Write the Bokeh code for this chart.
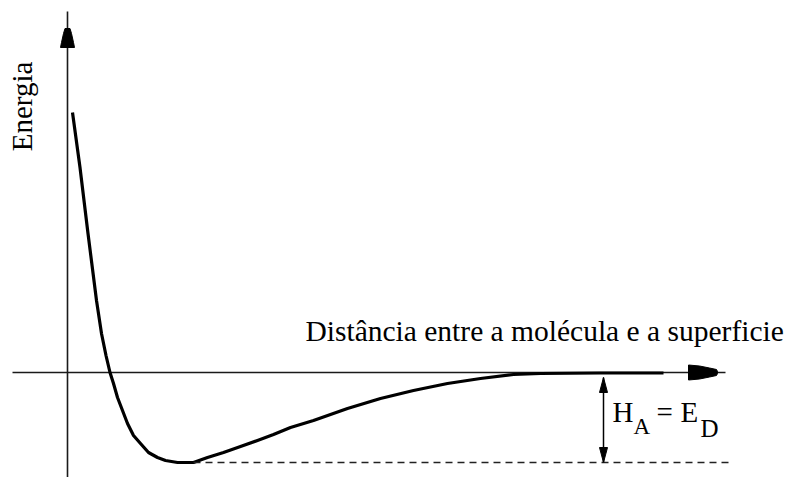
import numpy as np
from bokeh.plotting import figure
from bokeh.models import Range1d
from bokeh.core.properties import value
from bokeh.embed import file_html
from bokeh.resources import INLINE

# Potential-energy curve for adsorption (arbitrary units; x = distance, y = energy)
distance = [5, 12.5, 20.5, 29, 34, 38.5, 42.5, 46, 50, 55, 60, 66, 73, 81, 90,
            98, 110, 126, 140, 156, 173, 190, 206, 223, 246, 280, 313, 346, 380,
            413, 446, 473, 533, 596]
energy = [260, 205, 139, 72, 39, 17, 0, -11, -25, -38, -51, -63,
          -71, -80, -85, -88, -90, -90, -85, -80, -74, -68, -62, -55, -48, -36,
          -26, -18, -11, -6, -2, -1, -0.5, -0.5]

# Well depth (adsorption enthalpy = desorption energy)
well_depth = min(energy)
depth_arrow_x = 536
depth_line = [126, 661]

# Axis extents
x_axis = [-55, 658]
y_axis = [-105, 361]

font = "Liberation Serif"

p = figure(width=786, height=477, x_range=Range1d(-67, 719), y_range=Range1d(-105, 372),
           output_backend="svg", toolbar_location=None, min_border=0)
p.axis.visible = False
p.grid.visible = False
p.outline_line_color = None
p.background_fill_color = "white"
p.border_fill_color = "white"

axis_color = "#1a1a1a"


def head(tip, direction, profile):
    """Arrow-head polygon; profile is a list of (distance back from tip, half width)."""
    tx, ty = tip
    dx, dy = direction
    nx, ny = -dy, dx
    left = [(tx - dx * d + nx * w, ty - dy * d + ny * w) for d, w in profile]
    right = [(tx - dx * d - nx * w, ty - dy * d - ny * w) for d, w in reversed(profile)]
    pts = left + right
    return [q[0] for q in pts], [q[1] for q in pts]


# Axes
p.line([x_axis[0], x_axis[1]], [0, 0], line_color=axis_color, line_width=1.6)
p.line([0, 0], [y_axis[0], y_axis[1]], line_color=axis_color, line_width=1.6)

heads_x, heads_y = [], []
for tip, d, prof in [
    ((0, y_axis[1]), (0, 1), [(36, 7), (31, 6), (22, 4), (17, 2.5)]),
    ((x_axis[1], 0), (1, 0), [(37, 7.5), (26, 6.5), (16, 4.5), (9, 3), (8, 1)]),
    ((depth_arrow_x, -5), (0, 1), [(15, 4), (0, 0)]),
    ((depth_arrow_x, well_depth), (0, -1), [(15, 4), (0, 0)]),
]:
    hx, hy = head(tip, d, prof)
    heads_x.append(hx)
    heads_y.append(hy)
p.patches(heads_x, heads_y, fill_color="black", line_color="black", line_width=1)

# Potential curve
p.line(distance, energy, line_color="black", line_width=3.2, line_join="round")

# Dashed level at the bottom of the well
p.line(depth_line, [well_depth, well_depth], line_color="#222",
       line_width=1.5, line_dash="7 5")

# Double arrow showing the well depth
p.line([depth_arrow_x, depth_arrow_x], [well_depth, -5], line_color="black", line_width=1.5)

# Labels
p.text(x=[-46], y=[266], text=["Energia"], angle=np.pi / 2, text_align="center",
       text_baseline="middle", text_font=value(font), text_font_size="29px", text_color="black")
p.text(x=[238], y=[42], text=["Distância entre a molécula e a superficie"],
       text_align="left", text_baseline="alphabetic", text_font=value(font),
       text_font_size="29.5px", text_color="black")

p.text(x=[545], y=[-39], text=["H"], text_baseline="alphabetic",
       text_font=value(font), text_font_size="29px", text_color="black")
p.text(x=[566], y=[-54], text=["A"], text_baseline="alphabetic",
       text_font=value(font), text_font_size="23px", text_color="black")
p.text(x=[589], y=[-39], text=["="], text_baseline="alphabetic",
       text_font=value(font), text_font_size="29px", text_color="black")
p.text(x=[613], y=[-39], text=["E"], text_baseline="alphabetic",
       text_font=value(font), text_font_size="29px", text_color="black")
p.text(x=[633], y=[-56], text=["D"], text_baseline="alphabetic",
       text_font=value(font), text_font_size="25px", text_color="black")

open("out.html", "w").write(file_html(p, INLINE))
